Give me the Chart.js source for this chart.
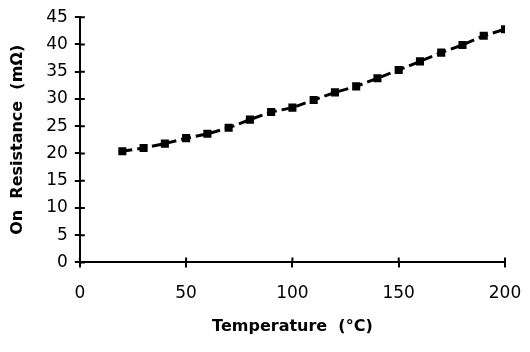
<!DOCTYPE html>
<html>
<head>
<meta charset="utf-8">
<script src="https://cdn.jsdelivr.net/npm/chart.js@4/dist/chart.umd.min.js"></script>
<style>
  body { margin: 0; background: #fff; }
  #chart { display: block; }
</style>
</head>
<body>
<canvas id="chart" width="530" height="352"></canvas>
<script>
var temperature = [20, 30, 40, 50, 60, 70, 80, 90, 100, 110, 120, 130, 140, 150, 160, 170, 180, 190, 200];
var resistance = [20.4, 21.0, 21.8, 22.8, 23.6, 24.7, 26.2, 27.6, 28.4, 29.8, 31.2, 32.3, 33.8, 35.3, 36.9, 38.5, 39.9, 41.6, 42.8];
var xTicks = [0, 50, 100, 150, 200];
var yTicks = [0, 5, 10, 15, 20, 25, 30, 35, 40, 45];

var points = temperature.map(function (t, i) { return { x: t, y: resistance[i] }; });
var tickFont = { family: "'DejaVu Sans', sans-serif", size: 17, weight: 'normal' };
var titleFont = { family: "'DejaVu Sans', sans-serif", size: 16, weight: 'bold' };

// little inner half of each tick mark, so they cross the axis like in the original
var innerTicks = {
  id: 'innerTicks',
  afterDraw: function (chart) {
    var c = chart.ctx, xs = chart.scales.x, ys = chart.scales.y;
    c.save();
    c.strokeStyle = '#000';
    c.lineWidth = 2;
    c.beginPath();
    yTicks.forEach(function (v) {
      var py = ys.getPixelForValue(v);
      c.moveTo(xs.left, py); c.lineTo(xs.left + 5, py);
    });
    xTicks.forEach(function (v) {
      var px = xs.getPixelForValue(v);
      c.moveTo(px, ys.bottom); c.lineTo(px, ys.bottom - 5);
    });
    c.stroke();
    c.restore();
  }
};

var ctx = document.getElementById('chart').getContext('2d');
var chart = new Chart(ctx, {
  type: 'scatter',
  data: {
    datasets: [{
      data: points,
      showLine: true,
      borderColor: '#000',
      backgroundColor: '#000',
      borderWidth: 3,
      borderDash: [10, 5],
      pointStyle: 'rect',
      pointRadius: 3.6,
      pointHoverRadius: 3.6
    }]
  },
  plugins: [innerTicks],
  options: {
    responsive: false,
    animation: false,
    layout: { padding: { top: 10, right: 0, left: 4, bottom: 12 } },
    plugins: { legend: { display: false }, tooltip: { enabled: false } },
    scales: {
      x: {
        type: 'linear', min: 0, max: 200,
        afterBuildTicks: function (s) { s.ticks = xTicks.map(function (v) { return { value: v }; }); },
        afterFit: function (s) { s.paddingRight = 25; },
        grid: { drawOnChartArea: false, color: '#000', lineWidth: 2, tickLength: 5 },
        border: { color: '#000', width: 2 },
        ticks: { color: '#000', font: tickFont, padding: 16, maxRotation: 0 },
        title: { display: true, text: 'Temperature  (°C)', color: '#000', font: titleFont, padding: { top: -3 } }
      },
      y: {
        min: 0, max: 45,
        afterBuildTicks: function (s) { s.ticks = yTicks.map(function (v) { return { value: v }; }); },
        grid: { drawOnChartArea: false, color: '#000', lineWidth: 2, tickLength: 5 },
        border: { color: '#000', width: 2 },
        ticks: { color: '#000', font: tickFont, padding: 7 },
        title: { display: true, text: 'On  Resistance  (mΩ)', color: '#000', font: titleFont, padding: { bottom: 12 } }
      }
    }
  }
});
</script>
</body>
</html>
